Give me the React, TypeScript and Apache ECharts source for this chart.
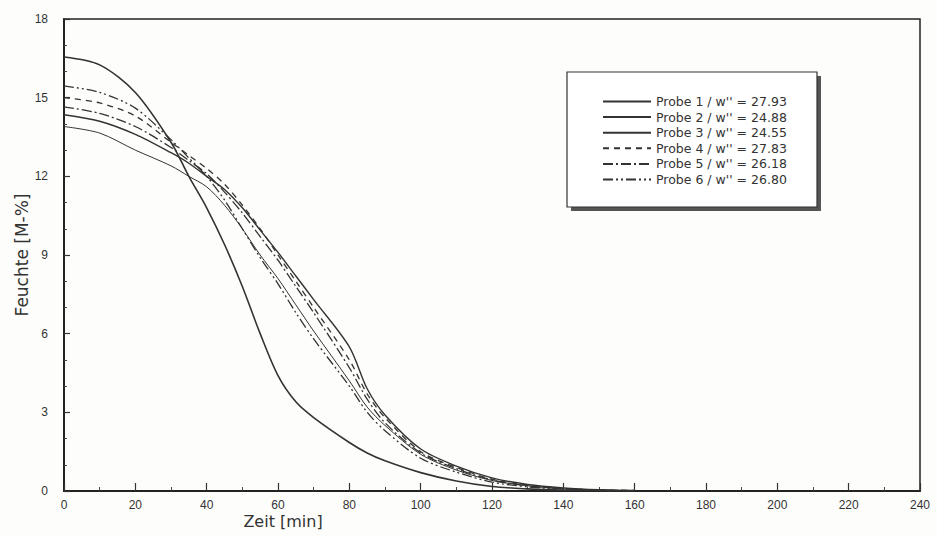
import React, { useEffect, useRef } from "react";
import * as echarts from "echarts";

const timeMin = [0, 10, 20, 30, 35, 40, 45, 50, 55, 60, 65, 70, 80, 85, 90, 100, 110, 120, 130, 140, 150, 160];
const probe1 = [16.55, 16.25, 15.2, 13.3, 12.0, 10.8, 9.4, 7.8, 6.0, 4.4, 3.4, 2.8, 1.85, 1.45, 1.15, 0.7, 0.38, 0.17, 0.08, 0.03, 0.01, 0];
const probe2 = [14.35, 14.1, 13.6, 12.9, 12.5, 12.0, 11.5, 10.8, 9.95, 9.1, 8.2, 7.3, 5.5, 3.9, 2.9, 1.6, 0.95, 0.5, 0.25, 0.12, 0.05, 0.02];
const probe3 = [13.9, 13.65, 13.0, 12.4, 12.0, 11.6, 10.9, 10.0, 9.0, 8.1, 7.1, 6.1, 4.2, 3.2, 2.5, 1.4, 0.8, 0.4, 0.2, 0.08, 0.03, 0.01];
const probe4 = [15.0, 14.8, 14.3, 13.3, 12.8, 12.3, 11.7, 10.9, 10.0, 9.0, 8.0, 7.0, 5.0, 3.7, 2.8, 1.5, 0.9, 0.45, 0.22, 0.1, 0.04, 0.02];
const probe5 = [14.65, 14.4, 13.9, 13.1, 12.6, 12.1, 11.4, 10.6, 9.7, 8.8, 7.8, 6.8, 4.7, 3.5, 2.6, 1.45, 0.85, 0.42, 0.2, 0.09, 0.04, 0.01];
const probe6 = [15.45, 15.2, 14.6, 13.4, 12.7, 12.0, 11.1, 10.0, 8.9, 7.9, 6.8, 5.8, 4.0, 3.0, 2.3, 1.25, 0.72, 0.34, 0.16, 0.07, 0.03, 0.01];

const seriesNames = [
  "Probe 1 / w'' = 27.93",
  "Probe 2 / w'' = 24.88",
  "Probe 3 / w'' = 24.55",
  "Probe 4 / w'' = 27.83",
  "Probe 5 / w'' = 26.18",
  "Probe 6 / w'' = 26.80",
];
const seriesData = [probe1, probe2, probe3, probe4, probe5, probe6];
const xTitle = "Zeit [min]";
const yTitle = "Feuchte [M-%]";

const lineStyles: any[] = [
  { width: 1.6, type: "solid" },
  { width: 1.4, type: "solid" },
  { width: 1.0, type: "solid" },
  { width: 1.3, type: [6, 5] },
  { width: 1.3, type: [10, 3, 2, 3] },
  { width: 1.3, type: [10, 3, 2, 3, 2, 3] },
];

export default function App() {
  const ref = useRef<HTMLDivElement>(null);
  useEffect(() => {
    if (!ref.current) return;
    const chart = echarts.init(ref.current, null, { renderer: "svg" });
    const font = "Liberation Sans";
    const wide = "DejaVu Sans";
    chart.setOption({
      animation: false,
      backgroundColor: "#fdfdfb",
      grid: {
        left: 64,
        right: 17,
        top: 19,
        bottom: 46,
        show: true,
        borderColor: "#222",
        borderWidth: 1.5,
        backgroundColor: "transparent",
      },
      xAxis: {
        type: "value",
        min: 0,
        max: 240,
        interval: 20,
        axisLine: { show: true, onZero: false, lineStyle: { color: "#222", width: 2 } },
        axisTick: { show: true, inside: true, length: 8, lineStyle: { color: "#333", width: 1.2 } },
        minorTick: { show: true, splitNumber: 2, length: 4, lineStyle: { color: "#444", width: 1 } },
        axisLabel: { color: "#333", fontSize: 12, fontFamily: font, margin: 8 },
        splitLine: { show: false },
      },
      yAxis: {
        type: "value",
        min: 0,
        max: 18,
        interval: 3,
        axisLine: { show: true, onZero: false, lineStyle: { color: "#222", width: 2 } },
        axisTick: { show: true, inside: true, length: 6, lineStyle: { color: "#333", width: 1.2 } },
        minorTick: { show: true, splitNumber: 3, length: 3, lineStyle: { color: "#444", width: 1 } },
        axisLabel: { color: "#333", fontSize: 12, fontFamily: font, margin: 16 },
        splitLine: { show: false },
      },
      legend: {
        orient: "vertical",
        left: 597,
        top: 89,
        itemWidth: 48,
        itemHeight: 8,
        itemGap: 0.6,
        itemStyle: { opacity: 0 },
        textStyle: { color: "#333", fontSize: 12.5, fontFamily: wide, lineHeight: 15 },
        data: seriesNames,
      },
      graphic: [
        { type: "rect", shape: { x: 571, y: 76, width: 250, height: 135 }, style: { fill: "#555" }, z: 0 },
        { type: "rect", shape: { x: 567, y: 72, width: 250, height: 135 }, style: { fill: "#fff", stroke: "#333", lineWidth: 1.2 }, z: 1 },
        {
          type: "text",
          x: 283,
          y: 521,
          style: { text: xTitle, fill: "#333", fontSize: 16, fontFamily: wide, align: "center", verticalAlign: "middle" },
        },
        {
          type: "text",
          x: 22,
          y: 255,
          rotation: Math.PI / 2,
          style: { text: yTitle, fill: "#333", fontSize: 17, fontFamily: wide, align: "center", verticalAlign: "middle" },
        },
      ],
      series: seriesNames.map((name, i) => ({
        name,
        type: "line",
        showSymbol: false,
        symbol: "none",
        smooth: 0.3,
        color: "#333",
        lineStyle: { color: "#333", ...lineStyles[i] },
        data: timeMin.map((t, k) => [t, seriesData[i][k]]),
        z: 3,
      })),
    });
    return () => chart.dispose();
  }, []);
  return <div ref={ref} style={{ position: "fixed", left: 0, top: 0, width: 937, height: 537 }} />;
}
